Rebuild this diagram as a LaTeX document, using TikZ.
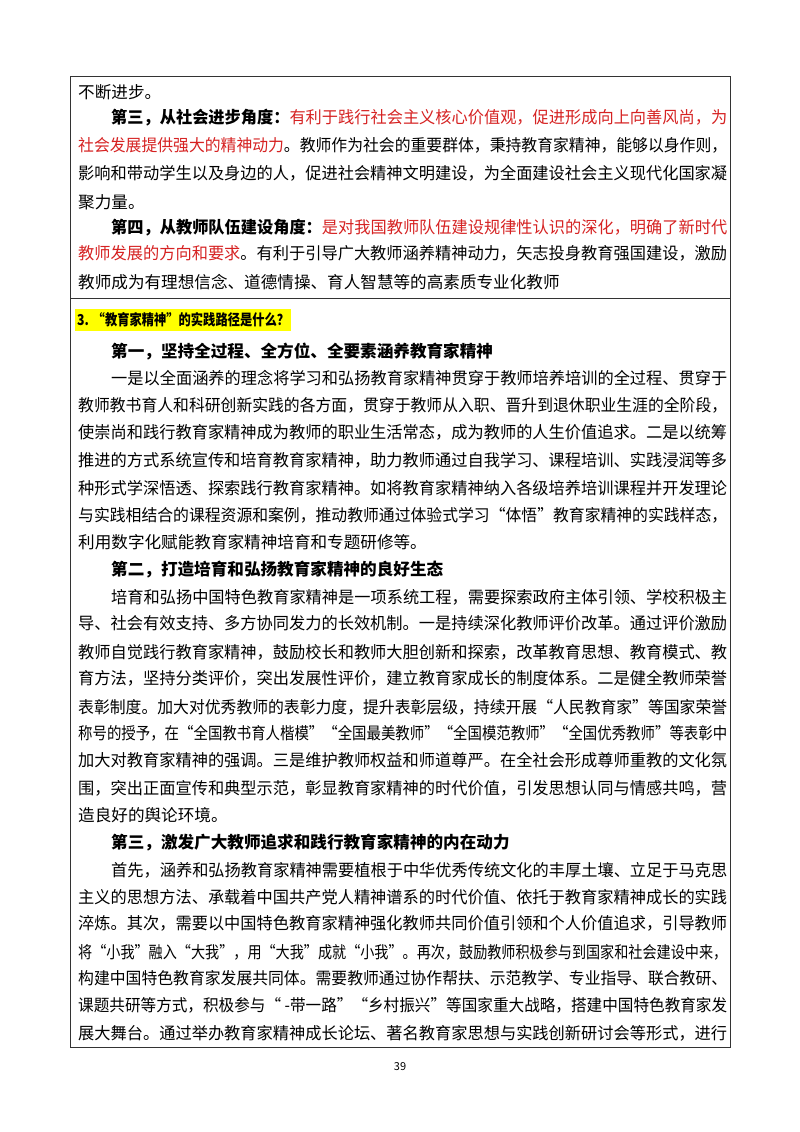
\documentclass[tikz,border=0pt]{standalone}
\usepackage{fontspec}
\usepackage{graphicx}
\setmainfont{Noto Sans CJK SC}
\definecolor{txtred}{RGB}{214,34,34}
\definecolor{hl}{RGB}{255,255,0}
\newcommand\FL[2]{\resizebox{#1}{\height}{#2}}
\newcommand\rd[1]{\textcolor{txtred}{#1}}
\begin{document}
\begin{tikzpicture}[x=1pt,y=-1pt,
  ln/.style={anchor=west,inner sep=0pt,font=\fontsize{16.6}{20}\selectfont},
  frame/.style={draw=black!80,line width=0.9pt}]
\useasboundingbox (0,0) rectangle (800,1132);
\fill[white] (0,0) rectangle (800,1132);
\draw[frame] (70,76) rectangle (730,1047);
\draw[frame] (70,298) -- (730,298);
% top section
\node[ln] (a1) at (78,92) {不断进步。};
\node[ln] (a2) at (111,118) {\FL{616pt}{\textbf{第三，从社会进步角度：}\rd{有利于践行社会主义核心价值观，促进形成向上向善风尚，为}}};
\node[ln] (a3) at (78,145) {\FL{649pt}{\rd{社会发展提供强大的精神动力}。教师作为社会的重要群体，秉持教育家精神，能够以身作则，}};
\node[ln] (a4) at (78,173) {\FL{649pt}{影响和带动学生以及身边的人，促进社会精神文明建设，为全面建设社会主义现代化国家凝}};
\node[ln] (a5) at (78,202) {聚力量。};
\node[ln] (a6) at (111,228) {\FL{616pt}{\textbf{第四，从教师队伍建设角度：}\rd{是对我国教师队伍建设规律性认识的深化，明确了新时代}}};
\node[ln] (a7) at (78,253) {\FL{649pt}{\rd{教师发展的方向和要求}。有利于引导广大教师涵养精神动力，矢志投身教育强国建设，激励}};
\node[ln] (a8) at (78,282) {教师成为有理想信念、道德情操、育人智慧等的高素质专业化教师};
% header
\node[ln,fill=hl,inner xsep=2pt,inner ysep=4pt,font=\fontsize{15}{18}\selectfont\bfseries] (h) at (75,320) {\FL{212pt}{3. “教育家精神”的实践路径是什么？}};
\node[ln,font=\fontsize{16.6}{20}\selectfont\bfseries] (s1) at (111,352) {第一，坚持全过程、全方位、全要素涵养教育家精神};
\node[ln] (b1) at (111,378) {\FL{616pt}{一是以全面涵养的理念将学习和弘扬教育家精神贯穿于教师培养培训的全过程、贯穿于}};
\node[ln] (b2) at (78,405) {\FL{649pt}{教师教书育人和科研创新实践的各方面，贯穿于教师从入职、晋升到退休职业生涯的全阶段，}};
\node[ln] (b3) at (78,432) {\FL{649pt}{使崇尚和践行教育家精神成为教师的职业生活常态，成为教师的人生价值追求。二是以统筹}};
\node[ln] (b4) at (78,460) {\FL{649pt}{推进的方式系统宣传和培育教育家精神，助力教师通过自我学习、课程培训、实践浸润等多}};
\node[ln] (b5) at (78,488) {\FL{649pt}{种形式学深悟透、探索践行教育家精神。如将教育家精神纳入各级培养培训课程并开发理论}};
\node[ln] (b6) at (78,515) {\FL{649pt}{与实践相结合的课程资源和案例，推动教师通过体验式学习“体悟”教育家精神的实践样态，}};
\node[ln] (b7) at (78,542) {利用数字化赋能教育家精神培育和专题研修等。};
\node[ln,font=\fontsize{16.6}{20}\selectfont\bfseries] (s2) at (111,570) {第二，打造培育和弘扬教育家精神的良好生态};
\node[ln] (c1) at (111,597) {\FL{616pt}{培育和弘扬中国特色教育家精神是一项系统工程，需要探索政府主体引领、学校积极主}};
\node[ln] (c2) at (78,623) {\FL{649pt}{导、社会有效支持、多方协同发力的长效机制。一是持续深化教师评价改革。通过评价激励}};
\node[ln] (c3) at (78,652) {\FL{649pt}{教师自觉践行教育家精神，鼓励校长和教师大胆创新和探索，改革教育思想、教育模式、教}};
\node[ln] (c4) at (78,678) {\FL{649pt}{育方法，坚持分类评价，突出发展性评价，建立教育家成长的制度体系。二是健全教师荣誉}};
\node[ln] (c5) at (78,707) {\FL{649pt}{表彰制度。加大对优秀教师的表彰力度，提升表彰层级，持续开展“人民教育家”等国家荣誉}};
\node[ln] (c6) at (78,733) {\FL{649pt}{称号的授予，在“全国教书育人楷模”“全国最美教师”“全国模范教师”“全国优秀教师”等表彰中}};
\node[ln] (c7) at (78,760) {\FL{649pt}{加大对教育家精神的强调。三是维护教师权益和师道尊严。在全社会形成尊师重教的文化氛}};
\node[ln] (c8) at (78,788) {\FL{649pt}{围，突出正面宣传和典型示范，彰显教育家精神的时代价值，引发思想认同与情感共鸣，营}};
\node[ln] (c9) at (78,815) {造良好的舆论环境。};
\node[ln,font=\fontsize{16.6}{20}\selectfont\bfseries] (s3) at (111,843) {第三，激发广大教师追求和践行教育家精神的内在动力};
\node[ln] (d1) at (111,870) {\FL{616pt}{首先，涵养和弘扬教育家精神需要植根于中华优秀传统文化的丰厚土壤、立足于马克思}};
\node[ln] (d2) at (78,897) {\FL{649pt}{主义的思想方法、承载着中国共产党人精神谱系的时代价值、依托于教育家精神成长的实践}};
\node[ln] (d3) at (78,923) {\FL{649pt}{淬炼。其次，需要以中国特色教育家精神强化教师共同价值引领和个人价值追求，引导教师}};
\node[ln] (d4) at (78,952) {\FL{649pt}{将“小我”融入“大我”，用“大我”成就“小我”。再次，鼓励教师积极参与到国家和社会建设中来，}};
\node[ln] (d5) at (78,978) {\FL{649pt}{构建中国特色教育家发展共同体。需要教师通过协作帮扶、示范教学、专业指导、联合教研、}};
\node[ln] (d6) at (78,1005) {\FL{649pt}{课题共研等方式，积极参与“ -带一路”“乡村振兴”等国家重大战略，搭建中国特色教育家发}};
\node[ln] (d7) at (78,1033) {\FL{649pt}{展大舞台。通过举办教育家精神成长论坛、著名教育家思想与实践创新研讨会等形式，进行}};
\node[inner sep=0pt,font=\fontsize{11}{13}\selectfont] (pg) at (400,1067) {39};
\end{tikzpicture}
\end{document}
